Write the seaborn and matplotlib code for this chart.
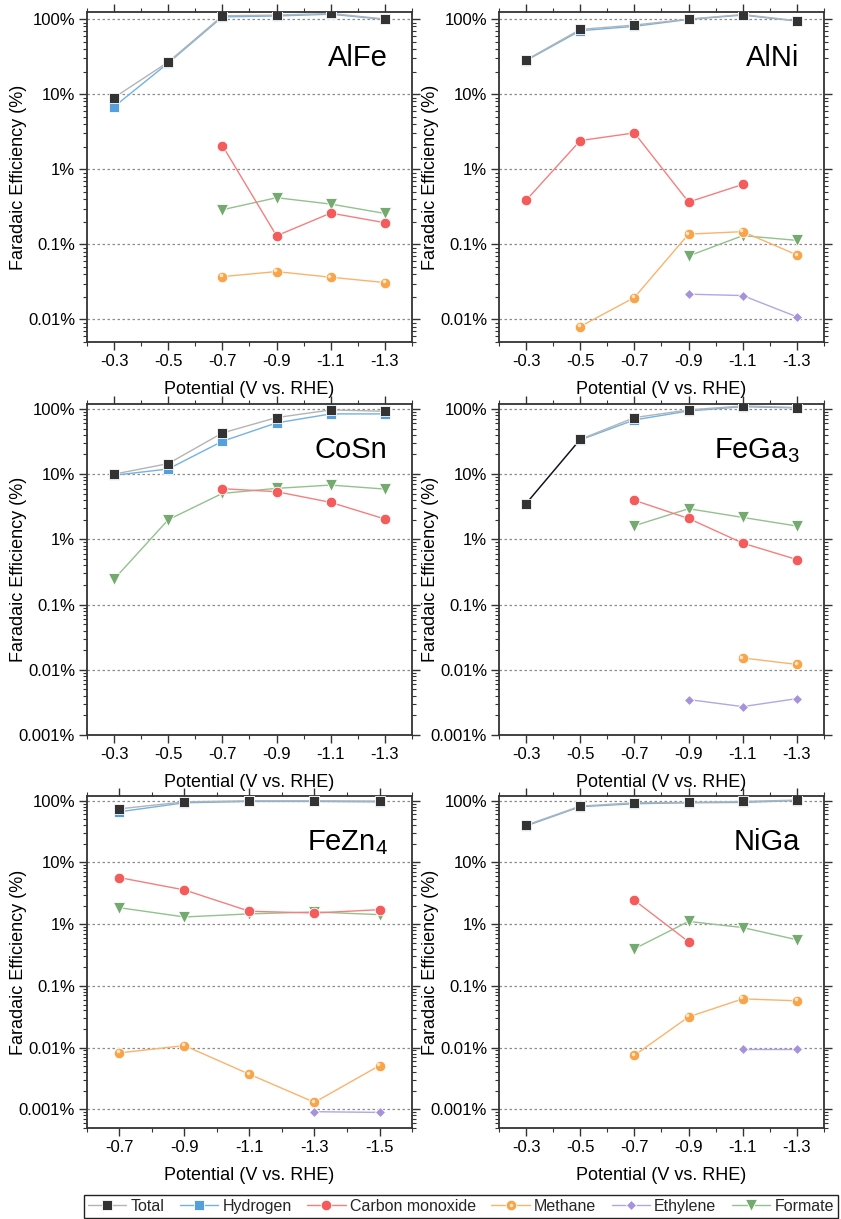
import matplotlib
matplotlib.use("Agg")
import numpy as np
import pandas as pd
import matplotlib.pyplot as plt
import matplotlib.ticker as mticker
import matplotlib.transforms as mtransforms
from matplotlib.lines import Line2D
from matplotlib.legend_handler import HandlerTuple
import seaborn as sns

# ---------------------------------------------------------------- data
products = ["Total", "Hydrogen", "Carbon monoxide", "Methane", "Ethylene", "Formate"]

potentials_std = [-0.3, -0.5, -0.7, -0.9, -1.1, -1.3]
potentials_fezn4 = [-0.7, -0.9, -1.1, -1.3, -1.5]
xticklabels_std = ["-0.3", "-0.5", "-0.7", "-0.9", "-1.1", "-1.3"]
xticklabels_fezn4 = ["-0.7", "-0.9", "-1.1", "-1.3", "-1.5"]

yticks = [0.001, 0.01, 0.1, 1, 10, 100]
yticklabels = ["0.001%", "0.01%", "0.1%", "1%", "10%", "100%"]

N = np.nan

# AlFe
alfe_total = [9.0, 26.8, 110.7, 113.0, 119.0, 100.0]
alfe_h2 = [6.8, 26.0, 107.0, 110.0, 116.0, 99.0]
alfe_co = [N, N, 2.07, 0.13, 0.261, 0.194]
alfe_ch4 = [N, N, 0.0372, 0.0434, 0.0365, 0.031]
alfe_c2h4 = [N, N, N, N, N, N]
alfe_hcoo = [N, N, 0.289, 0.418, 0.344, 0.258]

# AlNi
alni_total = [28.5, 72.9, 83.2, 100.0, 115.0, 95.0]
alni_h2 = [28.0, 70.0, 80.0, 99.0, 113.0, 94.0]
alni_co = [0.385, 2.41, 3.05, 0.366, 0.628, N]
alni_ch4 = [N, 0.00805, 0.0196, 0.137, 0.1476, 0.0723]
alni_c2h4 = [N, N, N, 0.0217, 0.0208, 0.01084]
alni_hcoo = [N, N, N, 0.070, 0.1306, 0.113]

# CoSn
cosn_total = [10.0, 14.5, 42.8, 73.6, 96.5, 92.0]
cosn_h2 = [9.6, 12.0, 31.9, 61.0, 83.8, 83.8]
cosn_co = [N, N, 5.98, 5.38, 3.69, 2.05]
cosn_ch4 = [N, N, N, N, N, N]
cosn_c2h4 = [N, N, N, N, N, N]
cosn_hcoo = [0.245, 2.0, 5.07, 6.05, 6.8, 5.9]

# FeGa3
fega3_total = [3.53, 34.1, 73.6, 96.5, 111.0, 105.0]
fega3_h2 = [N, 33.5, 67.8, 93.0, 108.0, 103.5]
fega3_co = [N, N, 3.97, 2.09, 0.875, 0.49]
fega3_ch4 = [N, N, N, N, 0.0152, 0.0121]
fega3_c2h4 = [N, N, N, 0.0035, 0.00273, 0.00362]
fega3_hcoo = [N, N, 1.62, 2.95, 2.17, 1.60]

# FeZn4
fezn4_total = [74.0, 96.0, 100.0, 100.0, 99.0]
fezn4_h2 = [66.3, 92.8, 97.5, 97.5, 96.0]
fezn4_co = [5.69, 3.59, 1.62, 1.52, 1.72]
fezn4_ch4 = [0.00822, 0.0108, 0.0037, 0.0013, 0.00512]
fezn4_c2h4 = [N, N, N, 0.000916, 0.000893]
fezn4_hcoo = [1.85, 1.31, 1.47, 1.58, 1.43]

# NiGa
niga_total = [40.3, 81.9, 92.8, 94.0, 97.5, 102.5]
niga_h2 = [39.0, 80.0, 89.4, 92.8, 94.0, 101.0]
niga_co = [N, N, 2.44, 0.52, N, N]
niga_ch4 = [N, N, 0.0075, 0.0315, 0.0617, 0.0574]
niga_c2h4 = [N, N, N, N, 0.0094, 0.0094]
niga_hcoo = [N, N, 0.40, 1.11, 0.883, 0.56]

# ---------------------------------------------------------------- styles
line_colors = {
    "Total": "#b4b4b4", "Hydrogen": "#72b2e4", "Carbon monoxide": "#f57f7f",
    "Methane": "#fbb36c", "Ethylene": "#b3a6e2", "Formate": "#92c28d",
}
marker_colors = {
    "Total": "#333333", "Hydrogen": "#55a0dc", "Carbon monoxide": "#f45b5b",
    "Methane": "#f9a449", "Ethylene": "#a592da", "Formate": "#74aa70",
}
markers = {
    "Total": "s", "Hydrogen": "s", "Carbon monoxide": "o",
    "Methane": "o", "Ethylene": "D", "Formate": "v",
}
marker_sizes = {
    "Total": 7.0, "Hydrogen": 7.0, "Carbon monoxide": 7.6,
    "Methane": 7.6, "Ethylene": 5.6, "Formate": 8.0,
}
draw_order = ["Hydrogen", "Total", "Formate", "Carbon monoxide", "Methane", "Ethylene"]

panels = [
    ("AlFe", potentials_std, xticklabels_std, (-0.2, -1.4), (0.005, 124),
     [alfe_total, alfe_h2, alfe_co, alfe_ch4, alfe_c2h4, alfe_hcoo]),
    ("AlNi", potentials_std, xticklabels_std, (-0.2, -1.4), (0.005, 124),
     [alni_total, alni_h2, alni_co, alni_ch4, alni_c2h4, alni_hcoo]),
    ("CoSn", potentials_std, xticklabels_std, (-0.2, -1.4), (0.001, 119),
     [cosn_total, cosn_h2, cosn_co, cosn_ch4, cosn_c2h4, cosn_hcoo]),
    ("FeGa$_{3}$", potentials_std, xticklabels_std, (-0.2, -1.4), (0.001, 119),
     [fega3_total, fega3_h2, fega3_co, fega3_ch4, fega3_c2h4, fega3_hcoo]),
    ("FeZn$_{4}$", potentials_fezn4, xticklabels_fezn4, (-0.6, -1.6), (0.0005, 120),
     [fezn4_total, fezn4_h2, fezn4_co, fezn4_ch4, fezn4_c2h4, fezn4_hcoo]),
    ("NiGa", potentials_std, xticklabels_std, (-0.2, -1.4), (0.0005, 120),
     [niga_total, niga_h2, niga_co, niga_ch4, niga_c2h4, niga_hcoo]),
]

# ---------------------------------------------------------------- figure
sns.set_theme(style="ticks")
plt.rcParams["font.family"] = ["Liberation Sans", "DejaVu Sans"]
plt.rcParams["mathtext.default"] = "regular"
plt.rcParams["axes.unicode_minus"] = False

fig = plt.figure(figsize=(8.41, 12.19), dpi=100)

col_left = [0.1034, 0.5933]
col_width = 0.3865
row_bottom = [0.7194, 0.3970, 0.0747]
row_height = [0.2707, 0.2716, 0.2724]

spine_color = "#333333"

for i, (name, pots, xtl, xlim, ylim, series) in enumerate(panels):
    r, c = divmod(i, 2)
    ax = fig.add_axes([col_left[c], row_bottom[r], col_width, row_height[r]])
    values = dict(zip(products, series))
    frame = pd.DataFrame({"potential": pots, **values})

    for prod in draw_order:
        sub = frame[["potential", prod]].dropna()
        if sub.empty:
            continue
        sns.lineplot(data=sub, x="potential", y=prod, ax=ax,
                     color=line_colors[prod], linewidth=1.0,
                     marker=markers[prod], markersize=marker_sizes[prod],
                     markerfacecolor=marker_colors[prod],
                     markeredgecolor="white", markeredgewidth=0.6,
                     errorbar=None, zorder=3)
        if prod == "Methane":
            shine = mtransforms.offset_copy(ax.transData, fig=fig, x=-1.4, y=1.4, units="dots")
            ax.plot(sub["potential"], sub[prod], linestyle="none", marker="o",
                    markersize=2.6, markerfacecolor="#ffe6c8", markeredgewidth=0,
                    transform=shine, zorder=4)
        if prod == "Total":
            # segments starting at a potential with no hydrogen value are drawn dark
            for k in range(len(pots) - 1):
                if np.isnan(values["Hydrogen"][k]) and not np.isnan(values["Total"][k]):
                    seg = frame.iloc[[k, k + 1]][["potential", "Total"]]
                    sns.lineplot(data=seg, x="potential", y="Total", ax=ax,
                                 color="#10131c", linewidth=1.0, errorbar=None, zorder=3.5)
                    ax.plot(seg["potential"], seg["Total"], linestyle="none",
                            marker="s", markersize=marker_sizes["Total"],
                            markerfacecolor=marker_colors["Total"],
                            markeredgecolor="white", markeredgewidth=0.6, zorder=3.6)

    ax.set_yscale("log")
    ax.set_xlim(*xlim)
    ax.set_xticks(pots)
    ax.set_xticklabels(xtl)
    ax.xaxis.set_minor_locator(mticker.AutoMinorLocator(2))
    ax.set_yticks(yticks)
    ax.set_yticklabels(yticklabels)
    ax.yaxis.set_minor_locator(mticker.LogLocator(base=10, subs=np.arange(2, 10), numticks=20))
    ax.yaxis.set_minor_formatter(mticker.NullFormatter())
    ax.set_ylim(*ylim)

    ax.yaxis.grid(True, which="major", linestyle=(0, (2, 2)), color="#8c8c8c", linewidth=0.9)
    ax.xaxis.grid(False)
    ax.set_axisbelow(True)

    for s in ax.spines.values():
        s.set_color(spine_color)
        s.set_linewidth(1.3)
        s.set_visible(True)

    ax.tick_params(which="both", direction="out", top=True, right=True,
                   labeltop=False, labelright=False, color=spine_color)
    ax.tick_params(which="major", length=5.5, width=1.0, labelsize=12, pad=3, labelcolor="black")
    ax.tick_params(which="minor", length=3, width=0.8)

    ax.set_xlabel("Potential (V vs. RHE)", fontsize=13, labelpad=9, color="black")
    ax.set_ylabel("Faradaic Efficiency (%)", fontsize=13, color="black")
    ax.yaxis.set_label_coords(-0.185, 0.5)

    ax.text(0.925, 0.86, name, transform=ax.transAxes, ha="right", va="center",
            fontsize=21, color="black")

# ---------------------------------------------------------------- legend
handles = []
for prod in products:
    ln = Line2D([], [], color=line_colors[prod], linewidth=1.0, marker=markers[prod],
                markersize=marker_sizes[prod], markerfacecolor=marker_colors[prod],
                markeredgecolor="white", markeredgewidth=0.6)
    if prod == "Methane":
        dot = Line2D([], [], linestyle="none", marker="o", markersize=2.6,
                     markerfacecolor="#ffe6c8", markeredgewidth=0)
        handles.append((ln, dot))
    else:
        handles.append(ln)

leg = fig.legend(handles, products, loc="lower left", ncol=6, mode="expand",
                 bbox_to_anchor=(0.0999, 0.0012, 0.8965, 0.018),
                 fontsize=11.5, handlelength=2.4, handletextpad=0.25,
                 columnspacing=0.35, borderpad=0.25, borderaxespad=0,
                 frameon=True, fancybox=False, framealpha=1,
                 handler_map={tuple: HandlerTuple(ndivide=1)})
leg.get_frame().set_edgecolor("#222222")
leg.get_frame().set_linewidth(1.0)

fig.savefig("out.png", dpi=100)
